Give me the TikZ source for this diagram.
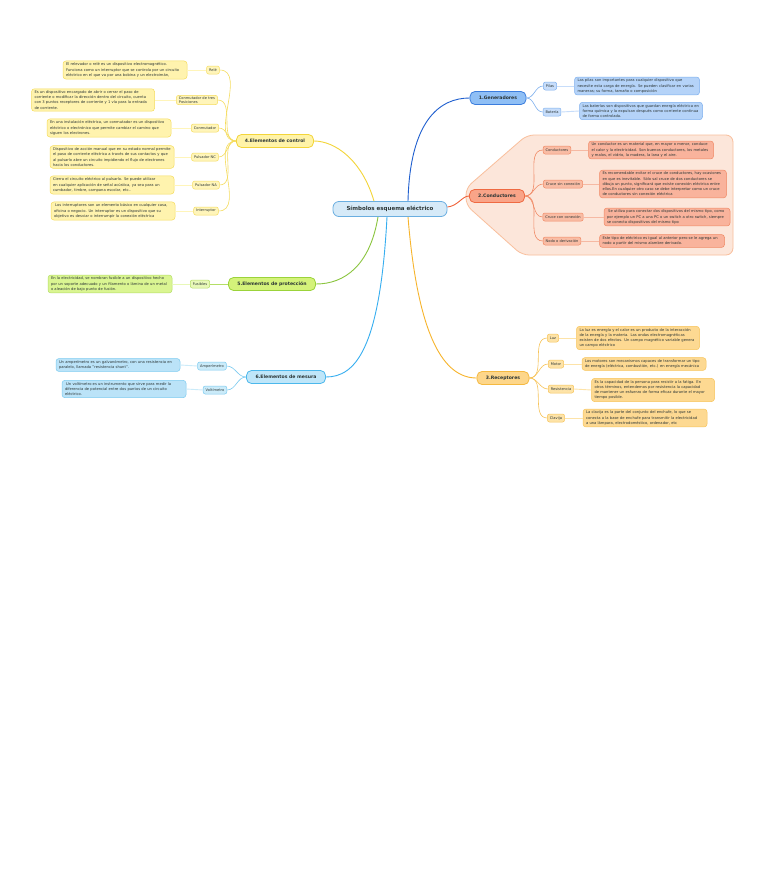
\documentclass[tikz,border=0pt]{standalone}
\usepackage{fontspec}
\setmainfont{DejaVu Sans}
\newcommand\bodyfont{\fontsize{3.7}{5.2}\selectfont\hyphenpenalty=10000\exhyphenpenalty=10000}
\newcommand\leaffont{\fontsize{3.6}{4.4}\selectfont}
\newcommand\brfont{\fontsize{4.6}{5.5}\selectfont\bfseries}
\newcommand\cfont{\fontsize{5.5}{6.5}\selectfont\bfseries}
\definecolor{ink}{HTML}{2B3535}
% blue
\definecolor{gL}{HTML}{1F5FCF}\definecolor{gF}{HTML}{8FBFF5}\definecolor{gB}{HTML}{3B7DDD}
\definecolor{gLF}{HTML}{C7DDFA}\definecolor{gLB}{HTML}{7FB0EE}\definecolor{gTF}{HTML}{B5D3F8}
% conductors
\definecolor{kL}{HTML}{F0623A}\definecolor{kF}{HTML}{F9A488}\definecolor{kB}{HTML}{EF6A42}
\definecolor{kLF}{HTML}{F9BCA4}\definecolor{kLB}{HTML}{F08A66}\definecolor{kTF}{HTML}{F9B39C}
\definecolor{kPF}{HTML}{FCE6DA}\definecolor{kPB}{HTML}{F9BF9C}
% receptors
\definecolor{rL}{HTML}{F7B42C}\definecolor{rF}{HTML}{FDD68A}\definecolor{rB}{HTML}{F5B940}
\definecolor{rLF}{HTML}{FDE3A8}\definecolor{rLB}{HTML}{F7C45A}\definecolor{rTF}{HTML}{FDD992}
% control
\definecolor{yL}{HTML}{F3D53A}\definecolor{yF}{HTML}{FFF3A8}\definecolor{yB}{HTML}{F3D53A}
\definecolor{yLF}{HTML}{FFF5BA}\definecolor{yLB}{HTML}{F5DC5E}\definecolor{yTF}{HTML}{FFF3AE}
% protection
\definecolor{pL}{HTML}{8BC53F}\definecolor{pF}{HTML}{D4F27A}\definecolor{pB}{HTML}{9BD33A}
\definecolor{pLF}{HTML}{E8F8B8}\definecolor{pLB}{HTML}{B4DE66}\definecolor{pTF}{HTML}{DAF592}
% measure
\definecolor{mL}{HTML}{36AEF0}\definecolor{mF}{HTML}{BFE6F9}\definecolor{mB}{HTML}{4CB8EC}
\definecolor{mLF}{HTML}{CBEBF9}\definecolor{mLB}{HTML}{7CCBF0}\definecolor{mTF}{HTML}{BBE3F8}
\definecolor{cF}{HTML}{D6EAF8}\definecolor{cB}{HTML}{6AAEE0}
\tikzset{
  branch/.style={rounded corners=5pt, draw, line width=0.8pt, font=\brfont, text=ink, minimum height=13pt, inner xsep=3pt},
  leaf/.style={rounded corners=2pt, draw, line width=0.5pt, font=\leaffont, text=ink, minimum height=8pt, inner xsep=2.5pt, inner ysep=1pt, align=left},
  txt/.style={rounded corners=3pt, draw, line width=0.5pt, font=\bodyfont, text=ink, align=left, inner xsep=3pt, inner ysep=2pt},
  main/.style={line width=0.9pt},
  sub/.style={line width=0.6pt},
  link/.style={line width=0.9pt},
}
\begin{document}
\begin{tikzpicture}[x=1pt,y=-1pt]
\useasboundingbox[fill=white] (0,0) rectangle (768,892);
% conductor panel
\draw[fill=kPF, draw=kPB, line width=0.8pt, rounded corners=7pt] (466,188) -- (527,135) -- (733,135) -- (733,255) -- (522,255) -- (466,205) -- cycle;

% center
\node[rounded corners=6pt, draw=cB, fill=cF, line width=0.8pt, font=\cfont, text=ink, minimum width=114pt, minimum height=15pt] (c) at (390,209) {Símbolos esquema eléctrico};

% ===== 1 Generadores
\node[branch, draw=gB, fill=gF, minimum width=56pt] (g) at (498,98) {1.Generadores};
\node[leaf, draw=gLB, fill=gLF] (g1) at (550,86) {Pilas};
\node[txt, draw=gLB, fill=gTF, text width=119pt] (g1t) at (637,86) {Las pilas son importantes para cualquier dispositivo que necesite esta carga de energía. Se pueden clasificar en varias maneras; su forma, tamaño o composición};
\node[leaf, draw=gLB, fill=gLF] (g2) at (552,112) {Batería};
\node[txt, draw=gLB, fill=gTF, text width=117pt] (g2t) at (641,111) {Las baterías son dispositivos que guardan energía eléctrica en forma química y la expulsan después como corriente continua de forma controlada.};
\draw[main, gL] ([xshift=18pt]c.north) .. controls (410,120) and (440,98) .. (g.west);
\draw[sub, gLB] (g.east) to[out=0,in=180] (g1.west);
\draw[sub, gLB] (g.east) to[out=0,in=180] (g2.west);
\draw[link, gLF] (g1.east) -- (g1t.west);
\draw[link, gLF] (g2.east) -- (g2t.west);

% ===== 2 Conductores
\node[branch, draw=kB, fill=kF, minimum width=55pt] (k) at (497,196) {2.Conductores};
\node[leaf, draw=kLB, fill=kLF] (k1) at (557,150) {Conductores};
\node[txt, draw=kLB, fill=kTF, text width=119pt] (k1t) at (651,150) {Un conductor es un material que, en mayor o menor, conduce el calor y la electricidad. Son buenos conductores, los metales y malos, el vidrio, la madera, la lana y el aire.};
\node[leaf, draw=kLB, fill=kLF] (k2) at (563,184) {Cruce sin conexión};
\node[txt, draw=kLB, fill=kTF, text width=121pt] (k2t) at (663,184) {Es recomendable evitar el cruce de conductores, hay ocasiones en que es inevitable. Sólo sal cruce de dos conductores se dibuja un punto, significará que existe conexión eléctrica entre ellos.En cualquier otro caso se debe interpretar como un cruce de conductores sin conexión eléctrica};
\node[leaf, draw=kLB, fill=kLF] (k3) at (563,217) {Cruce con conexión};
\node[txt, draw=kLB, fill=kTF, text width=120pt] (k3t) at (667,217) {\ Se utiliza para conectar dos dispositivos del mismo tipo, como por ejemplo un PC a una PC o un switch a otro switch, siempre se conecta dispositivos del mismo tipo};
\node[leaf, draw=kLB, fill=kLF] (k4) at (562,241) {Nodo o derivación};
\node[txt, draw=kLB, fill=kTF, text width=119pt] (k4t) at (662,241) {Este tipo de eléctrico es igual al anterior pero se le agrega un nodo a partir del mismo alambre derivado.};
\draw[main, kL] ([yshift=2pt]c.east) .. controls (458,206) and (462,196) .. (k.west);
\foreach \i in {1,...,4}{
  \draw[sub, kLB] (k.east) to[out=0,in=180] (k\i.west);
  \draw[link, kLB!60] (k\i.east) -- (k\i t.west);
}

% ===== 3 Receptores
\node[branch, draw=rB, fill=rF, minimum width=52pt] (r) at (503,378) {3.Receptores};
\node[leaf, draw=rLB, fill=rLF] (r1) at (553,338) {Luz};
\node[txt, draw=rLB, fill=rTF, text width=117pt] (r1t) at (638,338) {La luz es energía y el calor es un producto de la interacción de la energía y la materia. Las ondas electromagnéticas existen de dos efectos. Un campo magnético variable genera un campo eléctrico};
\node[leaf, draw=rLB, fill=rLF] (r2) at (556,364) {Motor};
\node[txt, draw=rLB, fill=rTF, text width=118pt] (r2t) at (644,364) {Los motores son mecanismos capaces de transformar un tipo de energía (eléctrica, combustión, etc.) en energía mecánica};
\node[leaf, draw=rLB, fill=rLF] (r3) at (561,389) {Resistencia};
\node[txt, draw=rLB, fill=rTF, text width=117pt] (r3t) at (653,390) {Es la capacidad de la persona para resistir a la fatiga. En otros términos, entendemos por resistencia la capacidad de mantener un esfuerzo de forma eficaz durante el mayor tiempo posible.};
\node[leaf, draw=rLB, fill=rLF] (r4) at (556,418) {Clavija};
\node[txt, draw=rLB, fill=rTF, text width=118pt] (r4t) at (645,418) {La clavija es la parte del conjunto del enchufe, lo que se conecta a la base de enchufe para transmitir la electricidad a una lámpara, electrodoméstico, ordenador, etc};
\draw[main, rL] ([xshift=18pt]c.south) .. controls (418,340) and (445,378) .. (r.west);
\foreach \i in {1,...,4}{
  \draw[sub, rLB] (r.east) to[out=0,in=180] (r\i.west);
  \draw[link, rLF] (r\i.east) -- (r\i t.west);
}

% ===== 4 Control
\node[branch, draw=yB, fill=yF, minimum width=77pt] (y) at (275,141) {4.Elementos de control};
\node[leaf, draw=yLB, fill=yLF] (y1) at (213,70) {Relé};
\node[txt, draw=yLB, fill=yTF, text width=118pt] (y1t) at (125,70) {El relevador o relé es un dispositivo electromagnético. Funciona como un interruptor que se controla por un circuito eléctrico en el que va por una bobina y un electroimán,};
\node[leaf, draw=yLB, fill=yLF] (y2) at (197,100) {Conmutador de tres\\Posiciones};
\node[txt, draw=yLB, fill=yTF, text width=117pt] (y2t) at (93,100) {Es un dispositivo encargado de abrir o cerrar el paso de corriente o modificar la dirección dentro del circuito, cuenta con 3 puntos receptores de corriente y 1 vía para la entrada de corriente.};
\node[leaf, draw=yLB, fill=yLF] (y3) at (205,128) {Conmutador};
\node[txt, draw=yLB, fill=yTF, text width=118pt] (y3t) at (109,128) {En una instalación eléctrica, un conmutador es un dispositivo eléctrico o electrónico que permite cambiar el camino que siguen los electrones.};
\node[leaf, draw=yLB, fill=yLF] (y4) at (205,157) {Pulsador NC};
\node[txt, draw=yLB, fill=yTF, text width=118pt] (y4t) at (112,157) {Dispositivo de acción manual que en su estado normal permite el paso de corriente eléctrica a través de sus contactos y que al pulsarlo abre un circuito impidiendo el flujo de electrones hacia los conductores.};
\node[leaf, draw=yLB, fill=yLF] (y5) at (206,185) {Pulsador NA};
\node[txt, draw=yLB, fill=yTF, text width=118pt] (y5t) at (112,185) {Cierra el circuito eléctrico al pulsarlo. Se puede utilizar en cualquier aplicación de señal acústica, ya sea para un cumbador, timbre, campana escolar, etc..};
\node[leaf, draw=yLB, fill=yLF] (y6) at (206,211) {Interruptor};
\node[txt, draw=yLB, fill=yTF, text width=118pt] (y6t) at (113,211) {\ Los interruptores son un elemento básico en cualquier casa, oficina o negocio. Un interruptor es un dispositivo que su objetivo es desviar o interrumpir la conexión eléctrica};
\draw[main, yL] ([xshift=-16pt]c.north) .. controls (362,160) and (335,141) .. (y.east);
\foreach \i in {1,...,6}{
  \draw[sub, yLB] (y.west) to[out=180,in=0] (y\i.east);
  \draw[link, yLF] (y\i.west) -- (y\i t.east);
}

% ===== 5 Protección
\node[branch, draw=pB, fill=pF, minimum width=87pt] (p) at (272,284) {5.Elementos de protección};
\node[leaf, draw=pLB, fill=pLF] (p1) at (200,284) {Fusibles};
\node[txt, draw=pLB, fill=pTF, text width=118pt] (p1t) at (110,284) {En la electricidad, se nombran fusible a un dispositivo hecho por un soporte adecuado y un filamento o lámina de un metal o aleación de bajo punto de fusión.};
\draw[main, pL] ([xshift=-12pt]c.south) .. controls (370,265) and (345,284) .. (p.east);
\draw[sub, pLB] (p.west) -- (p1.east);
\draw[link, pLF] (p1.west) -- (p1t.east);

% ===== 6 Mesura
\node[branch, draw=mB, fill=mF, minimum width=79pt] (m) at (286,377) {6.Elementos de mesura};
\node[leaf, draw=mLB, fill=mLF] (m1) at (212,366) {Amperímetro};
\node[txt, draw=mLB, fill=mTF, text width=118pt] (m1t) at (118,365) {Un amperímetro es un galvanómetro, con una resistencia en paralelo, llamada "resistencia shunt".};
\node[leaf, draw=mLB, fill=mLF] (m2) at (215,390) {Voltímetro};
\node[txt, draw=mLB, fill=mTF, text width=118pt] (m2t) at (124,389) {\ Un voltímetro es un instrumento que sirve para medir la diferencia de potencial entre dos puntos de un circuito eléctrico.};
\draw[main, mL] ([xshift=-3pt]c.south) .. controls (380,350) and (355,377) .. (m.east);
\draw[sub, mLB] (m.west) to[out=180,in=0] (m1.east);
\draw[sub, mLB] (m.west) to[out=180,in=0] (m2.east);
\draw[link, mLF] (m1.west) -- (m1t.east);
\draw[link, mLF] (m2.west) -- (m2t.east);
\end{tikzpicture}
\end{document}
